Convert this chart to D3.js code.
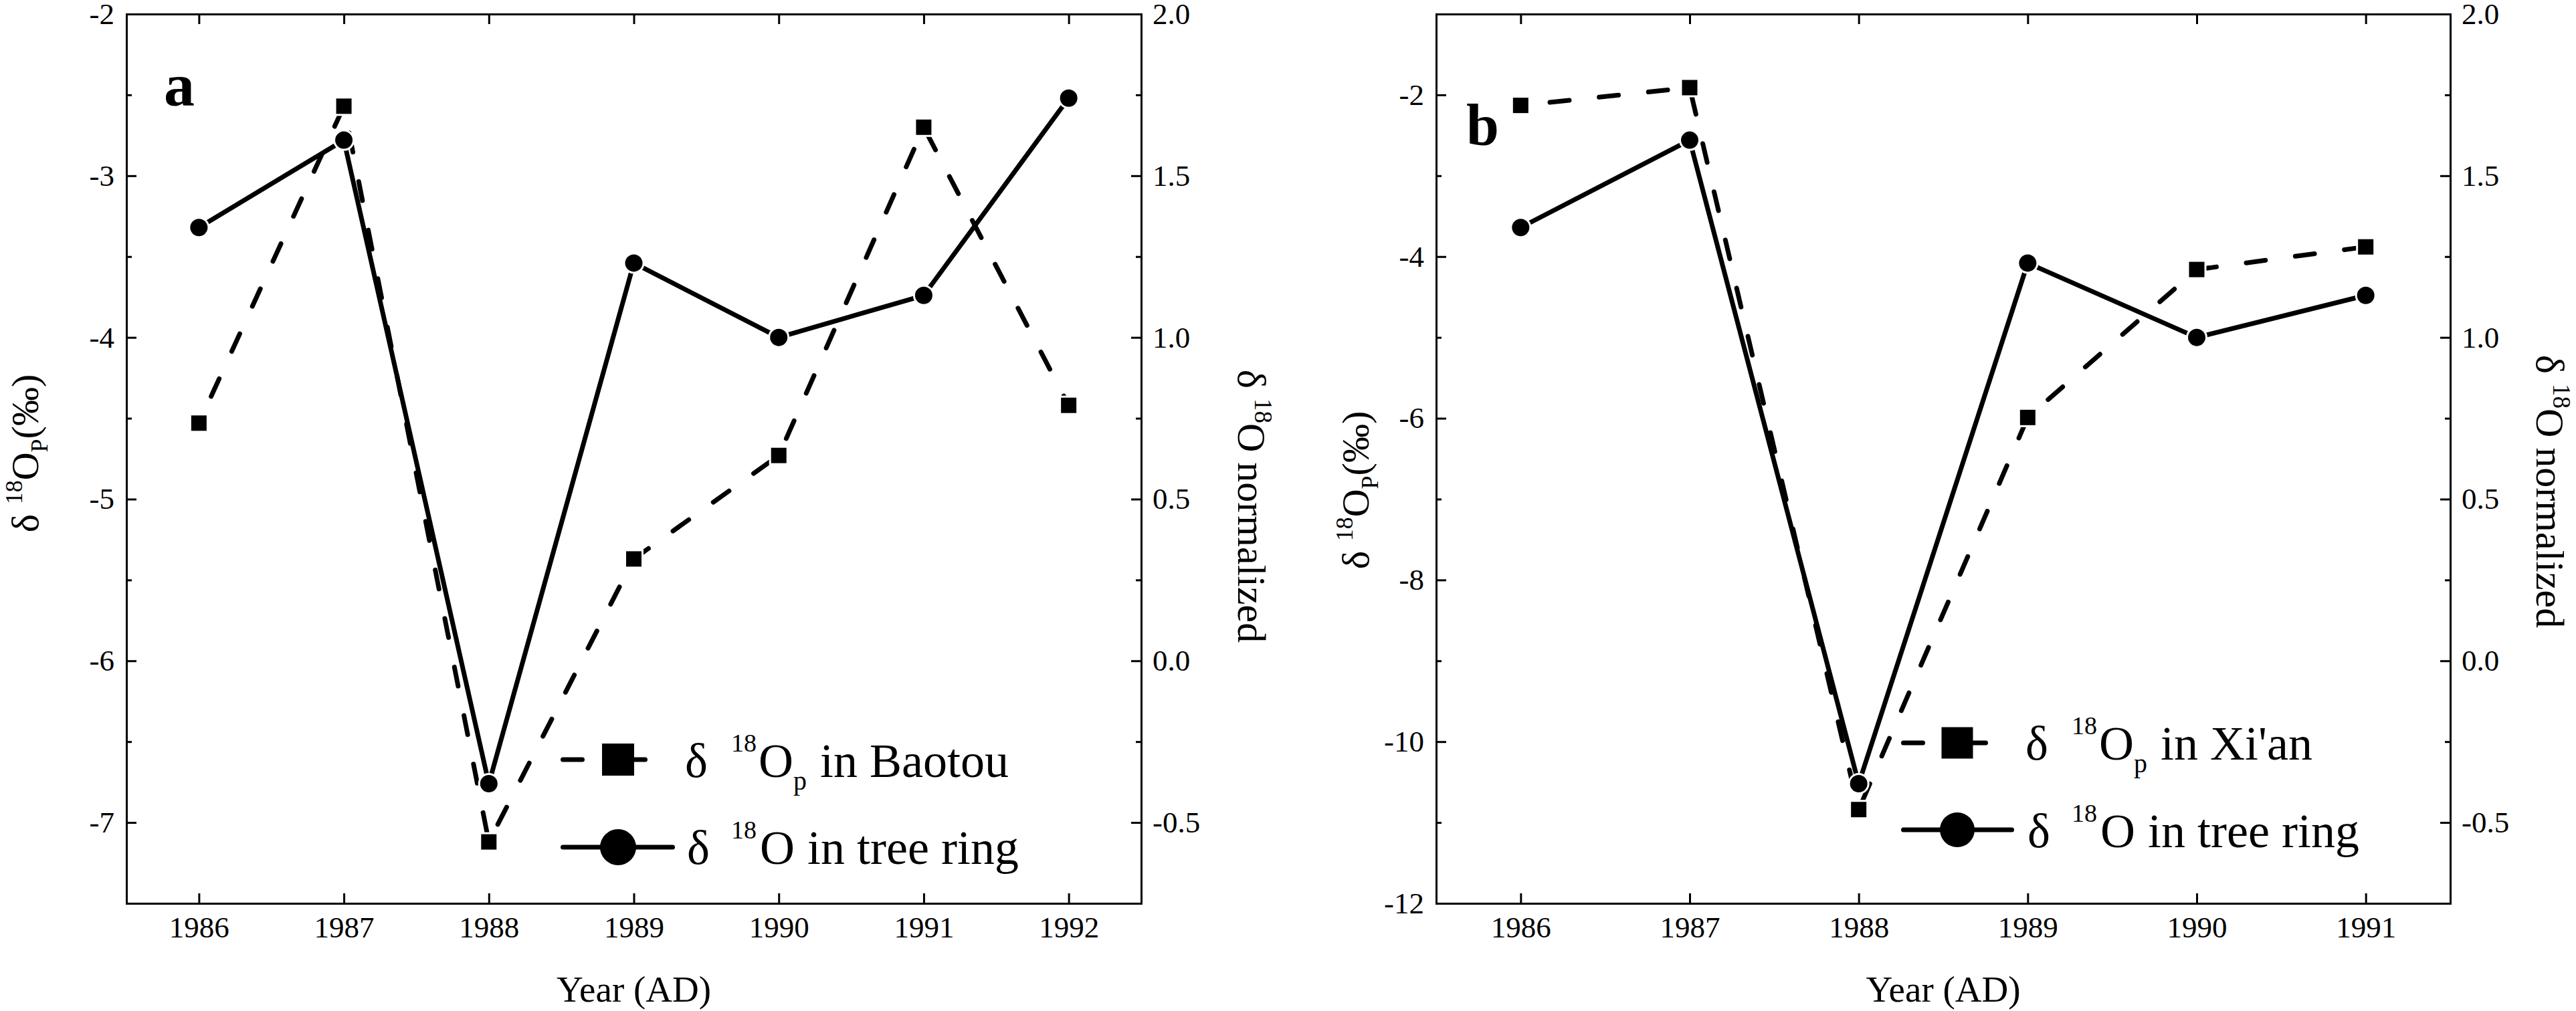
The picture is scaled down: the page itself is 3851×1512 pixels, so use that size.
<!DOCTYPE html>
<html>
<head>
<meta charset="utf-8">
<script src="https://cdn.jsdelivr.net/npm/d3@7"></script>
<style>
body{margin:0;background:#fff;}
text{font-family:"Liberation Serif","Times New Roman",serif;fill:#000;}
.axis path,.axis line{stroke:#000;stroke-width:3;}
.axis path{stroke-linecap:square;}
.axis text{font-size:45px;font-family:"Liberation Serif","Times New Roman",serif;fill:#000;}
</style>
</head>
<body>
<svg id="fig" width="3851" height="1512"></svg>
<script>
// panel a: Baotou precipitation vs tree ring
var years_a = [1986, 1987, 1988, 1989, 1990, 1991, 1992];
var baotou = [-4.53, -2.57, -7.12, -5.37, -4.73, -2.70, -4.42];
var ring_a = [1.34, 1.61, -0.38, 1.23, 1.00, 1.13, 1.74];

// panel b: Xi'an precipitation vs tree ring
var years_b = [1986, 1987, 1988, 1989, 1990, 1991];
var xian = [-2.13, -1.91, -10.84, -5.99, -4.16, -3.88];
var ring_b = [1.34, 1.61, -0.38, 1.23, 1.00, 1.13];

// tick values
var leftTicks_a = [-2, -3, -4, -5, -6, -7];
var leftMinor_a = [-2.5, -3.5, -4.5, -5.5, -6.5, -7.5];
var leftTicks_b = [-2, -4, -6, -8, -10, -12];
var leftMinor_b = [-1, -3, -5, -7, -9, -11];
var rightTicks = [2.0, 1.5, 1.0, 0.5, 0.0, -0.5];
var rightMinor = [1.75, 1.25, 0.75, 0.25, -0.25, -0.75];

var svg = d3.select("#fig");

function richText(parent, parts, size){
  var t = parent.append("text").attr("font-size", size);
  parts.forEach(function(p){
    t.append("tspan").attr("x", p.x).attr("y", p.y)
      .attr("font-size", p.size || size).text(p.t);
  });
  return t;
}

function panel(o){
  var g = svg.append("g");
  var x = d3.scaleLinear().domain(o.xDom).range([o.l, o.r]);
  var yL = d3.scaleLinear().domain(o.yDom).range([o.b, o.t]);
  var yR = d3.scaleLinear().domain([-0.75, 2.0]).range([o.b, o.t]);

  // axes (ticks point inward)
  g.append("g").attr("class","axis").attr("transform","translate(0,"+o.b+")")
    .call(d3.axisBottom(x).tickValues(o.years).tickFormat(d3.format("d"))
      .tickSizeInner(-15).tickSizeOuter(0).tickPadding(19));
  g.append("g").attr("class","axis").attr("transform","translate(0,"+o.t+")")
    .call(d3.axisTop(x).tickValues(o.years).tickFormat("")
      .tickSizeInner(-15).tickSizeOuter(0));
  g.append("g").attr("class","axis").attr("transform","translate("+o.l+",0)")
    .call(d3.axisLeft(yL).tickValues(o.leftTicks).tickFormat(function(d){return String(d);})
      .tickSizeInner(-15).tickSizeOuter(0).tickPadding(18));
  g.append("g").attr("class","axis").attr("transform","translate("+o.l+",0)")
    .call(d3.axisLeft(yL).tickValues(o.leftMinor).tickFormat("")
      .tickSizeInner(-8).tickSizeOuter(0))
    .select(".domain").remove();
  g.append("g").attr("class","axis").attr("transform","translate("+o.r+",0)")
    .call(d3.axisRight(yR).tickValues(rightTicks).tickFormat(function(d){return d.toFixed(1);})
      .tickSizeInner(-15).tickSizeOuter(0).tickPadding(17));
  g.append("g").attr("class","axis").attr("transform","translate("+o.r+",0)")
    .call(d3.axisRight(yR).tickValues(rightMinor).tickFormat("")
      .tickSizeInner(-8).tickSizeOuter(0))
    .select(".domain").remove();

  // series lines
  var lineP = d3.line().x(function(d,i){return x(o.years[i]);}).y(function(d){return yL(d);});
  var lineR = d3.line().x(function(d,i){return x(o.years[i]);}).y(function(d){return yR(d);});
  g.append("path").datum(o.precip).attr("d", lineP)
    .attr("fill","none").attr("stroke","#000").attr("stroke-width",7)
    .attr("stroke-dasharray","29,45").attr("stroke-dashoffset",30)
    .attr("stroke-linecap","round").attr("stroke-linejoin","round");
  g.append("path").datum(o.ring).attr("d", lineR)
    .attr("fill","none").attr("stroke","#000").attr("stroke-width",7)
    .attr("stroke-linecap","round").attr("stroke-linejoin","round");

  // markers
  g.selectAll(".sq").data(o.precip).enter().append("rect")
    .attr("x", function(d,i){return x(o.years[i]) - 11.5;})
    .attr("y", function(d){return yL(d) - 11.5;})
    .attr("width",23).attr("height",23)
    .attr("fill","#000").attr("stroke","#fff").attr("stroke-width",6)
    .style("paint-order","stroke");
  g.selectAll(".ci").data(o.ring).enter().append("circle")
    .attr("cx", function(d,i){return x(o.years[i]);})
    .attr("cy", function(d){return yR(d);})
    .attr("r",13)
    .attr("fill","#000").attr("stroke","#fff").attr("stroke-width",6)
    .style("paint-order","stroke");

  // panel letter
  g.append("text").attr("x", o.letter.x).attr("y", o.letter.y)
    .attr("font-size", o.letter.size).attr("font-weight","bold").text(o.letter.t);

  // axis titles
  g.append("text").attr("x",(o.l+o.r)/2).attr("y",1498).attr("text-anchor","middle")
    .attr("font-size",55).text("Year (AD)");

  var lt = g.append("text").attr("text-anchor","middle").attr("font-size",58)
    .attr("transform","translate("+o.ylab.x+","+o.ylab.y+") rotate(-90)");
  lt.append("tspan").text("\u03b4 ");
  lt.append("tspan").attr("font-size",36).attr("dy",-24).text("18");
  lt.append("tspan").attr("dy",24).text("O");
  lt.append("tspan").attr("font-size",36).attr("dy",14).text("P");
  lt.append("tspan").attr("dy",-14).text("(\u2030)");

  var rt = g.append("text").attr("text-anchor","middle").attr("font-size",60)
    .attr("transform","translate("+o.rlab.x+","+o.rlab.y+") rotate(90)");
  rt.append("tspan").text("\u03b4 ");
  rt.append("tspan").attr("font-size",37).attr("dy",-25).text("18");
  rt.append("tspan").attr("dy",25).text("O normalized");

  // legend
  var L = o.legend;
  g.append("line").attr("x1",L.x0+3.5).attr("x2",L.x1-3.5).attr("y1",L.y1).attr("y2",L.y1)
    .attr("stroke","#000").attr("stroke-width",7).attr("stroke-linecap","round")
    .attr("stroke-dasharray", L.dash);
  g.append("rect").attr("x",L.mx-L.sq/2).attr("y",L.y1-L.sq/2)
    .attr("width",L.sq).attr("height",L.sq).attr("fill","#000");
  g.append("line").attr("x1",L.x0+3.5).attr("x2",L.x2-3.5).attr("y1",L.y2).attr("y2",L.y2)
    .attr("stroke","#000").attr("stroke-width",7).attr("stroke-linecap","round");
  g.append("circle").attr("cx",L.mx).attr("cy",L.y2).attr("r",L.cr).attr("fill","#000");

  richText(g, [
    {t:"\u03b4", x:L.tx, y:L.b1},
    {t:"18", x:L.tx+69, y:L.b1-38, size:38},
    {t:"O", x:L.tx+110, y:L.b1},
    {t:"p", x:L.tx+162, y:L.b1+19, size:40},
    {t:L.name, x:L.tx+202, y:L.b1}
  ], 72);
  richText(g, [
    {t:"\u03b4", x:L.tx+3, y:L.b2},
    {t:"18", x:L.tx+69, y:L.b2-38, size:38},
    {t:"O", x:L.tx+112, y:L.b2},
    {t:"in tree ring", x:L.tx+183, y:L.b2}
  ], 72);
}

panel({
  l:189, r:1706, t:21, b:1351,
  xDom:[1985.5, 1992.5], yDom:[-7.5, -2],
  years:years_a, precip:baotou, ring:ring_a,
  leftTicks:leftTicks_a, leftMinor:leftMinor_a,
  letter:{t:"a", x:245, y:158, size:92},
  ylab:{x:57, y:678}, rlab:{x:1851, y:757},
  legend:{x0:838, x1:968, x2:1009, mx:924, sq:48, cr:27, y1:1136, y2:1267,
          dash:"29,40,100", tx:1024, b1:1162, b2:1292, name:"in Baotou"}
});

panel({
  l:2147, r:3663, t:21, b:1351,
  xDom:[1985.5, 1991.5], yDom:[-12, -1],
  years:years_b, precip:xian, ring:ring_b,
  leftTicks:leftTicks_b, leftMinor:leftMinor_b,
  letter:{t:"b", x:2192, y:217, size:88},
  ylab:{x:2046, y:733}, rlab:{x:3792, y:735},
  legend:{x0:2842, x1:2972, x2:3011, mx:2926, sq:47, cr:26, y1:1111, y2:1241,
          dash:"29,40,100", tx:3028, b1:1136, b2:1267, name:"in Xi'an"}
});
</script>
</body>
</html>
